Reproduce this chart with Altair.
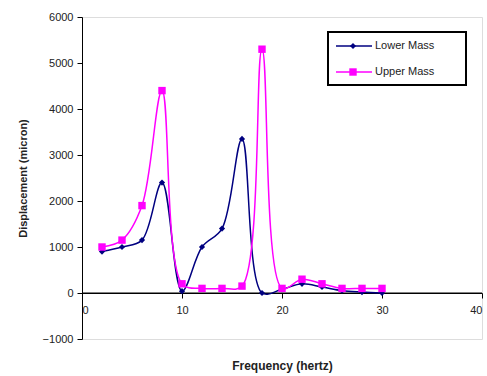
import altair as alt
import pandas as pd

freq = [2, 4, 6, 8, 10, 12, 14, 16, 18, 20, 22, 24, 26, 28, 30]
lower = [900, 1000, 1150, 2400, 40, 1000, 1400, 3350, 0, 80, 200, 130, 50, 20, 0]
upper = [1000, 1150, 1900, 4400, 200, 100, 100, 150, 5300, 100, 300, 200, 100, 100, 100]
series = ["Lower Mass", "Upper Mass"]
colors = ["#000080", "#ff00ff"]
shapes = ["diamond", "square"]
sizes = [38, 55]

W, H = 400, 322
y_min, y_max = -1000, 6000
zero_off = -H * (0 - y_min) / (y_max - y_min)

rows = []
for s, vals in zip(series, [lower, upper]):
    for f, v in zip(freq, vals):
        rows.append({"freq": f, "disp": v, "series": s})
df = pd.DataFrame(rows)

font = "Liberation Sans"
xs = alt.X("freq:Q", scale=alt.Scale(domain=[0, 40], nice=False),
           axis=alt.Axis(values=[0, 10, 20, 30, 40], offset=zero_off, domainColor="black",
                         tickColor="black", tickSize=5, labelFont=font, labelFontSize=11,
                         labelColor="#222", labelPadding=6, grid=False, format="d",
                         title="Frequency (hertz)", titleFont=font, titleFontSize=12,
                         titleFontWeight="bold", titleColor="#222", titleY=76,
                         titleBaseline="alphabetic"))
ys = alt.Y("disp:Q", scale=alt.Scale(domain=[y_min, y_max], nice=False),
           axis=alt.Axis(values=list(range(-1000, 6001, 1000)), domainColor="black",
                         tickColor="black", tickSize=5, labelFont=font, labelFontSize=11,
                         labelColor="#222", labelPadding=4, grid=False, format="d",
                         title="Displacement (micron)", titleFont=font, titleFontSize=11,
                         titleFontWeight="bold", titleColor="#222", titlePadding=14))

layers = []
zero_rule = alt.Chart(pd.DataFrame({"z": [0]})).mark_rule(color="black", strokeWidth=1).encode(
    y=alt.Y("z:Q", scale=alt.Scale(domain=[y_min, y_max], nice=False)))
layers.append(zero_rule)
for s, c, sh, sz in zip(series, colors, shapes, sizes):
    d = df[df.series == s]
    layers.append(alt.Chart(d).mark_line(interpolate="catmull-rom", strokeWidth=1.5, color=c)
                  .encode(x=xs, y=ys))
for s, c, sh, sz in zip(series, colors, shapes, sizes):
    d = df[df.series == s]
    layers.append(alt.Chart(d).mark_point(shape=sh, filled=True, size=sz, color=c, opacity=1)
                  .encode(x=xs, y=ys))

# legend box
leg = alt.Chart(pd.DataFrame({"a": [0]}))
layers.append(leg.mark_rect(fill="white", stroke="black", strokeWidth=2).encode(
    x=alt.value(246), x2=alt.value(384), y=alt.value(15), y2=alt.value(68)))
for i, (s, c, sh, sz) in enumerate(zip(series, colors, shapes, sizes)):
    yy = 29 + 26 * i
    lc = alt.Chart(pd.DataFrame({"label": [s]}))
    layers.append(lc.mark_rule(color=c, strokeWidth=1.5).encode(
        x=alt.value(254), x2=alt.value(290), y=alt.value(yy)))
    layers.append(lc.mark_point(shape=sh, filled=True, size=sz, color=c, opacity=1).encode(
        x=alt.value(271), y=alt.value(yy)))
    layers.append(lc.mark_text(align="left", baseline="middle", font=font, fontSize=11,
                               color="#222").encode(
        x=alt.value(293), y=alt.value(yy), text="label:N"))

chart = alt.layer(*layers).properties(
    width=W, height=H,
    autosize=alt.AutoSizeParams(type="none"),
    padding={"left": 82, "top": 17, "right": 5, "bottom": 37},
).configure_view(stroke="#999999", strokeWidth=1).configure(background="white")

chart.save("out.html", embed_options={"renderer": "svg", "actions": False})
